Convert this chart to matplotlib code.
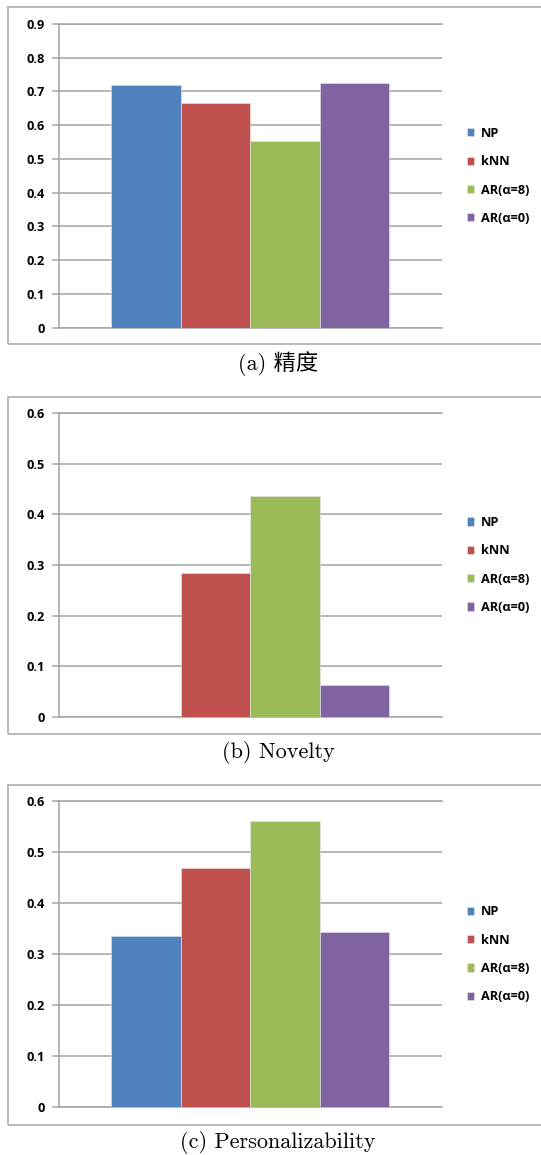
import numpy as np
import matplotlib
matplotlib.use('Agg')
import matplotlib.pyplot as plt
from matplotlib.patches import Rectangle

# Methods compared in every panel
methods = ["NP", "kNN", "AR(α=8)", "AR(α=0)"]
colors = ["#4F81BD", "#C0504D", "#9BBB59", "#8064A2"]

# Scores per method
precision = [0.719, 0.667, 0.554, 0.726]
novelty = [0.0, 0.284, 0.436, 0.063]
personalizability = [0.335, 0.469, 0.561, 0.343]

captions = ["(a) 精度", "(b) Novelty", "(c) Personalizability"]
y_max = [0.9, 0.6, 0.6]

W, H = 541, 1155
fig = plt.figure(figsize=(W / 100, H / 100), dpi=100)

tick_font = ['Open Sans', 'DejaVu Sans']
cap_font = ['cmr10', 'Noto Sans CJK SC']
grid_color = '#a3a3a3'

# pixel layout: (axis zero line y, axis top y, frame top, frame bottom, caption y)
layout = [
    (327.7, 24.0, 7.0, 344.3, 364.0),
    (716.7, 413.3, 397.3, 734.3, 753.0),
    (1107.3, 801.3, 784.7, 1125.0, 1143.0),
]
ax_left, ax_right = 58.7, 441.7
bar_w = 0.1815


def draw_panel(values, ymax, caption, geom):
    y0, y1, ftop, fbot, cap_y = geom
    ax = fig.add_axes([ax_left / W, (H - y0) / H,
                       (ax_right - ax_left) / W, (y0 - y1) / H])
    for i, (name, val, col) in enumerate(zip(methods, values, colors)):
        ax.bar((i - 1.5) * bar_w, val, width=bar_w, color=col, label=name,
               edgecolor='#e8e8e8', linewidth=0.4, zorder=3)
    ax.set_xlim(-0.5, 0.5)
    ax.set_ylim(0, ymax)
    ticks = np.round(np.arange(0, ymax + 1e-9, 0.1), 1)
    ax.set_yticks(ticks)
    ax.set_yticklabels(["0" if t == 0 else f"{t:.1f}" for t in ticks],
                       family=tick_font, fontweight='bold', fontsize=9.2)
    ax.set_xticks([])
    ax.yaxis.grid(True, color=grid_color, linewidth=1.1, zorder=0)
    ax.set_axisbelow(True)
    ax.spines['right'].set_visible(False)
    for side in ('left', 'bottom', 'top'):
        ax.spines[side].set_color(grid_color)
        ax.spines[side].set_linewidth(1.1)
    ax.tick_params(axis='y', direction='out', length=5, width=1.1,
                   color=grid_color, pad=5)

    ax.legend(loc='center left', bbox_to_anchor=(1.065, 0.5), frameon=False,
              borderpad=0, borderaxespad=0, handlelength=0.6, handleheight=0.6,
              handletextpad=0.5, labelspacing=1.2,
              prop={'family': tick_font, 'weight': 'bold', 'size': 9.2})

    # outer frame around each chart
    fig.add_artist(Rectangle((8 / W, (H - fbot) / H), 540 / W, (fbot - ftop) / H,
                             transform=fig.transFigure, fill=False,
                             edgecolor='#b3b3b3', linewidth=1.3))
    fig.text(278 / W, (H - cap_y) / H, caption, family=cap_font, fontsize=16,
             ha='center', va='center')


for vals, ymax, cap, geom in zip([precision, novelty, personalizability],
                                 y_max, captions, layout):
    draw_panel(vals, ymax, cap, geom)

fig.savefig('out.png', dpi=100, facecolor='white')
